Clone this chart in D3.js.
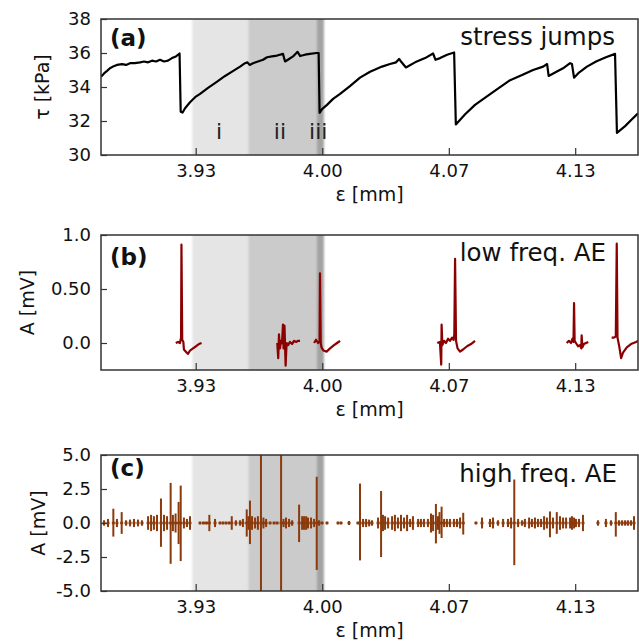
<!DOCTYPE html>
<html>
<head>
<meta charset="utf-8">
<script src="https://cdn.jsdelivr.net/npm/d3@7"></script>
<style>
body { margin: 0; background: #fff; }
text { font-family: "DejaVu Sans", sans-serif; }
</style>
</head>
<body>
<svg id="chart" width="639" height="642"></svg>
<script>
// x axis (displacement, mm)
var xDomain = [3.8834, 4.1664];
var xTicks = [3.9333, 4.0, 4.0667, 4.1333];

// shaded stages i, ii, iii
var stageStart = [3.9315, 3.9610, 3.9971];
var stageEnd = [3.9610, 3.9971, 4.0009];
var stageNames = ['i', 'ii', 'iii'];
var stageLabelX = [3.9456, 3.9777, 3.9979];

// (a) stress
var tauTicks = [30, 32, 34, 36, 38];
var stressX = [3.8834, 3.8850, 3.8866, 3.8881, 3.8897, 3.8918, 3.8945, 3.8966, 3.8987, 3.9013,
  3.9040, 3.9061, 3.9082, 3.9103, 3.9124, 3.9145, 3.9166, 3.9187, 3.9208, 3.9229,
  3.9248, 3.9254, 3.9264, 3.9277, 3.9303, 3.9330, 3.9356, 3.9398, 3.9444, 3.9488,
  3.9531, 3.9567, 3.9593, 3.9606, 3.9617, 3.9635, 3.9661, 3.9688, 3.9709, 3.9735,
  3.9762, 3.9793, 3.9804, 3.9825, 3.9846, 3.9870, 3.9883, 3.9909, 3.9935, 3.9970,
  3.9981, 3.9986, 3.9999, 4.0025, 4.0057, 4.0094, 4.0146, 4.0199, 4.0252, 4.0315,
  4.0357, 4.0389, 4.0405, 4.0415, 4.0441, 4.0489, 4.0542, 4.0584, 4.0597, 4.0621,
  4.0658, 4.0695, 4.0704, 4.0753, 4.0805, 4.0868, 4.0926, 4.0990, 4.1053, 4.1111,
  4.1164, 4.1185, 4.1193, 4.1227, 4.1269, 4.1306, 4.1316, 4.1327, 4.1353, 4.1395,
  4.1443, 4.1495, 4.1543, 4.1553, 4.1596, 4.1632, 4.1664];
var stressTau = [34.6, 34.8, 34.95, 35.1, 35.2, 35.3, 35.35, 35.3, 35.4, 35.4,
  35.45, 35.5, 35.45, 35.55, 35.5, 35.6, 35.5, 35.55, 35.7, 35.8,
  35.97, 32.55, 32.5, 32.75, 33.1, 33.4, 33.6, 33.95, 34.3, 34.65,
  34.95, 35.2, 35.4, 35.45, 35.3, 35.4, 35.5, 35.6, 35.75, 35.8,
  35.85, 35.95, 35.5, 35.65, 35.8, 36.07, 35.82, 35.9, 35.95, 36.0,
  36.0, 32.48, 32.7, 32.95, 33.3, 33.6, 34.05, 34.55, 34.9, 35.2,
  35.35, 35.45, 35.65, 35.5, 35.15, 35.45, 35.7, 35.97, 35.6, 35.7,
  35.9, 36.03, 31.8, 32.4, 32.95, 33.45, 33.9, 34.4, 34.7, 35.0,
  35.2, 35.35, 34.65, 34.85, 35.1, 35.4, 35.35, 34.55, 34.85, 35.2,
  35.5, 35.75, 35.95, 31.3, 31.7, 32.1, 32.45];

// (b) low frequency AE bursts
var lfTicks = [0.0, 0.5, 1.0];
var lfTickLabels = ['0.0', '0.50', '1.0'];
var lfBurstX = [
  [3.9228, 3.9240, 3.9250, 3.9256, 3.9258, 3.9262, 3.9268, 3.9271, 3.9286, 3.9293, 3.9303, 3.9319, 3.9335, 3.9350, 3.9364],
  [3.9763, 3.9768, 3.9772, 3.9777, 3.9783, 3.9788, 3.9793, 3.9796, 3.9801, 3.9807, 3.9812, 3.9820, 3.9830, 3.9841, 3.9851, 3.9862, 3.9873, 3.9883],
  [3.9957, 3.9967, 3.9978, 3.9986, 3.9988, 3.9992, 3.9996, 4.0006, 4.0023, 4.0041, 4.0062, 4.0078, 4.0094],
  [4.0606, 4.0620, 4.0627, 4.0629, 4.0633, 4.0642, 4.0652, 4.0663, 4.0673, 4.0684, 4.0692, 4.0696, 4.0700, 4.0705, 4.0713, 4.0726, 4.0742, 4.0763, 4.0784, 4.0805],
  [4.1288, 4.1300, 4.1311, 4.1319, 4.1324, 4.1327, 4.1330, 4.1337, 4.1348, 4.1358, 4.1365, 4.1367, 4.1371, 4.1379, 4.1390, 4.1402],
  [4.1525, 4.1537, 4.1547, 4.1552, 4.1556, 4.1564, 4.1575, 4.1585, 4.1605, 4.1627, 4.1654, 4.1664]
];
var lfBurstA = [
  [0.0, 0.01, 0.0, 0.05, 0.91, 0.03, 0.01, -0.06, -0.09, -0.1, -0.07, -0.05, -0.03, -0.01, 0.0],
  [0.0, -0.14, 0.08, -0.05, 0.02, 0.0, 0.17, -0.05, 0.16, -0.21, 0.0, -0.02, 0.01, -0.01, 0.02, 0.01, 0.02, 0.02],
  [0.0, 0.03, 0.0, 0.02, 0.645, 0.0, -0.04, -0.07, -0.08, -0.05, -0.02, 0.0, 0.02],
  [0.0, 0.01, -0.2, 0.17, -0.02, 0.02, 0.0, 0.04, 0.02, 0.05, 0.03, 0.08, 0.78, 0.02, -0.05, -0.08, -0.06, -0.03, -0.01, 0.02],
  [0.0, 0.02, 0.0, 0.04, 0.01, 0.37, 0.02, 0.0, -0.03, -0.02, -0.05, 0.07, -0.04, -0.01, 0.0, 0.01],
  [0.05, 0.05, 0.06, 0.92, 0.05, -0.02, -0.14, -0.09, -0.04, -0.01, 0.01, 0.02]
];

// (c) high frequency AE events: position, positive and negative peak
var hfTicks = [-5, -2.5, 0, 2.5, 5];
var hfTickLabels = ['-5.0', '-2.5', '0.0', '2.5', '5.0'];
var hfX = [3.8850, 3.8871, 3.8899, 3.8918, 3.8943, 3.8966, 3.8987, 3.9008, 3.9029, 3.9050,
  3.9082, 3.9098, 3.9113, 3.9129, 3.9150, 3.9166, 3.9182, 3.9201, 3.9213, 3.9227,
  3.9243, 3.9254, 3.9271, 3.9287, 3.9303, 3.9356, 3.9374, 3.9390, 3.9405, 3.9435,
  3.9461, 3.9477, 3.9493, 3.9509, 3.9523, 3.9545, 3.9567, 3.9582, 3.9602, 3.9611,
  3.9619, 3.9630, 3.9646, 3.9661, 3.9677, 3.9690, 3.9704, 3.9725, 3.9746, 3.9762,
  3.9783, 3.9796, 3.9809, 3.9825, 3.9841, 3.9878, 3.9894, 3.9904, 3.9915, 3.9925,
  3.9941, 3.9957, 3.9971, 3.9983, 3.9999, 4.0025, 4.0083, 4.0099, 4.0141, 4.0188,
  4.0199, 4.0215, 4.0231, 4.0247, 4.0262, 4.0294, 4.0310, 4.0320, 4.0331, 4.0347,
  4.0368, 4.0383, 4.0399, 4.0415, 4.0431, 4.0447, 4.0463, 4.0478, 4.0505, 4.0520,
  4.0536, 4.0557, 4.0573, 4.0584, 4.0599, 4.0610, 4.0618, 4.0629, 4.0642, 4.0657,
  4.0673, 4.0694, 4.0710, 4.0726, 4.0743, 4.0810, 4.0842, 4.0884, 4.0900, 4.0926,
  4.0953, 4.0979, 4.0995, 4.1012, 4.1032, 4.1053, 4.1068, 4.1090, 4.1105, 4.1121,
  4.1137, 4.1153, 4.1169, 4.1184, 4.1200, 4.1216, 4.1236, 4.1253, 4.1269, 4.1285,
  4.1306, 4.1316, 4.1327, 4.1337, 4.1353, 4.1374, 4.1453, 4.1495, 4.1522, 4.1547,
  4.1564, 4.1580, 4.1596, 4.1611, 4.1627, 4.1643];
var hfUp = [0.2, 0.3, 1.05, 0.3, 0.8, 0.2, 0.25, 0.3, 0.25, 0.2,
  0.5, 0.6, 0.5, 0.6, 1.8, 0.6, 0.5, 2.95, 0.6, 0.7,
  1.55, 2.75, 0.4, 0.3, 0.5, 0.1, 0.1, 0.1, 0.6, 0.3,
  0.1, 0.1, 0.1, 0.1, 0.5, 0.2, 0.2, 0.3, 1.0, 0.5,
  1.65, 0.5, 0.4, 0.5, 6, 0.4, 0.3, 0.1, 0.1, 0.1,
  6, 0.3, 0.4, 0.3, 0.2, 1.35, 0.5, 0.5, 0.5, 0.4,
  0.4, 0.3, 3.4, 0.2, 0.1, 0.1, 0.1, 0.1, 0.15, 0.1,
  2.9, 0.3, 0.3, 0.25, 0.2, 0.4, 2.35, 0.6, 0.5, 0.4,
  0.5, 0.6, 0.4, 0.6, 0.4, 0.6, 0.3, 0.5, 0.3, 0.3,
  0.3, 0.3, 0.7, 0.6, 1.4, 0.5, 0.8, 1.2, 0.3, 0.3,
  0.3, 0.3, 0.3, 0.4, 0.75, 0.1, 0.4, 0.3, 0.4, 0.2,
  0.3, 0.3, 0.4, 3.2, 0.3, 0.2, 0.3, 0.4, 0.3, 0.4,
  0.3, 0.3, 0.5, 0.4, 0.85, 0.4, 0.8, 0.5, 0.4, 0.4,
  0.4, 0.5, 0.4, 0.3, 0.3, 0.6, 0.2, 0.3, 0.2, 0.8,
  0.2, 0.2, 0.2, 0.2, 0.2, 0.5];
var hfDown = [0.2, 0.3, 1.0, 0.3, 0.8, 0.2, 0.25, 0.3, 0.25, 0.2,
  0.5, 0.6, 0.5, 0.6, 1.75, 0.6, 0.5, 3.0, 0.6, 0.7,
  1.55, 2.8, 0.4, 0.3, 0.5, 0.1, 0.1, 0.1, 0.6, 0.3,
  0.1, 0.1, 0.1, 0.1, 0.5, 0.2, 0.2, 0.3, 1.0, 0.5,
  1.55, 0.5, 0.4, 0.5, 6, 0.4, 0.3, 0.1, 0.1, 0.1,
  6, 0.3, 0.4, 0.3, 0.2, 1.4, 0.5, 0.5, 0.5, 0.4,
  0.4, 0.3, 3.45, 0.2, 0.1, 0.1, 0.1, 0.1, 0.15, 0.1,
  2.75, 0.3, 0.3, 0.25, 0.2, 0.4, 2.5, 0.6, 0.5, 0.4,
  0.5, 0.6, 0.4, 0.6, 0.4, 0.6, 0.3, 0.5, 0.3, 0.3,
  0.3, 0.3, 0.7, 0.6, 1.5, 0.5, 0.8, 1.1, 0.3, 0.3,
  0.3, 0.3, 0.3, 0.4, 0.85, 0.1, 0.4, 0.3, 0.4, 0.2,
  0.3, 0.3, 0.4, 3.1, 0.3, 0.2, 0.3, 0.4, 0.3, 0.4,
  0.3, 0.3, 0.5, 0.4, 1.05, 0.4, 0.8, 0.5, 0.4, 0.4,
  0.4, 0.5, 0.4, 0.3, 0.3, 0.6, 0.2, 0.3, 0.2, 1.0,
  0.2, 0.2, 0.2, 0.2, 0.2, 0.5];

var stageColors = ['#e5e5e5', '#cbcbcb', '#a3a3a3'];
var axisColor = '#333';

var svg = d3.select('#chart');
var x = d3.scaleLinear().domain(xDomain).range([101, 638]);

var defs = svg.append('defs');
defs.append('filter').attr('id', 'soft')
  .attr('x', '-10%').attr('width', '120%')
  .append('feGaussianBlur').attr('stdDeviation', '1.2 0');

var panels = [
  { id: 'a', top: 19, bottom: 155, domain: [30, 38], ticks: tauTicks,
    fmt: function(d) { return d; }, ylabel: 'τ [kPa]', ylabelX: 42,
    tag: '(a)', tagY: 46, title: 'stress jumps', titleX: 615, titleY: 45 },
  { id: 'b', top: 235, bottom: 370, domain: [-0.25, 1.0], ticks: lfTicks,
    fmt: function(d, i) { return lfTickLabels[i]; }, ylabel: 'A [mV]', ylabelX: 27,
    tag: '(b)', tagY: 265, title: 'low freq. AE', titleX: 606, titleY: 261 },
  { id: 'c', top: 455, bottom: 591, domain: [-5, 5], ticks: hfTicks,
    fmt: function(d, i) { return hfTickLabels[i]; }, ylabel: 'A [mV]', ylabelX: 38,
    tag: '(c)', tagY: 476, title: 'high freq. AE', titleX: 617, titleY: 482 }
];

panels.forEach(function(p) {
  p.y = d3.scaleLinear().domain(p.domain).range([p.bottom, p.top]);
  var g = svg.append('g').attr('id', 'panel-' + p.id);

  defs.append('clipPath').attr('id', 'clip-' + p.id)
    .append('rect')
    .attr('x', x.range()[0]).attr('y', p.top)
    .attr('width', x.range()[1] - x.range()[0])
    .attr('height', p.bottom - p.top);

  var plot = g.append('g').attr('clip-path', 'url(#clip-' + p.id + ')');
  plot.append('g').attr('filter', 'url(#soft)')
    .selectAll('rect')
    .data(stageStart)
    .enter().append('rect')
    .attr('x', function(d) { return x(d); })
    .attr('width', function(d, i) { return x(stageEnd[i]) - x(d); })
    .attr('y', p.top - 2)
    .attr('height', p.bottom - p.top + 4)
    .attr('fill', function(d, i) { return stageColors[i]; });

  p.plot = plot;
  p.g = g;
});

// (a) stress curve
var pa = panels[0];
pa.plot.append('path')
  .datum(d3.range(stressX.length))
  .attr('fill', 'none')
  .attr('stroke', '#000')
  .attr('stroke-width', 2.2)
  .attr('stroke-linejoin', 'round')
  .attr('d', d3.line()
    .x(function(i) { return x(stressX[i]); })
    .y(function(i) { return pa.y(stressTau[i]); }));

pa.plot.selectAll('.stage-label')
  .data(stageNames)
  .enter().append('text')
  .attr('class', 'stage-label')
  .attr('x', function(d, i) { return x(stageLabelX[i]); })
  .attr('y', pa.y(30.95))
  .attr('text-anchor', 'middle')
  .attr('font-size', 22)
  .attr('fill', '#222')
  .text(function(d) { return d; });

// (b) low frequency bursts
var pb = panels[1];
pb.plot.selectAll('.burst')
  .data(lfBurstX)
  .enter().append('path')
  .attr('class', 'burst')
  .attr('fill', 'none')
  .attr('stroke', '#8b0000')
  .attr('stroke-width', 2.2)
  .attr('stroke-linejoin', 'round')
  .attr('d', function(xs, k) {
    return d3.line()
      .x(function(d) { return x(d); })
      .y(function(d, i) { return pb.y(lfBurstA[k][i]); })(xs);
  });

// (c) high frequency events
var pc = panels[2];
var hfColor = '#8b3a0c';
var ev = pc.plot.selectAll('.event')
  .data(hfX)
  .enter().append('g')
  .attr('class', 'event');
ev.append('line')
  .attr('x1', function(d) { return x(d); })
  .attr('x2', function(d) { return x(d); })
  .attr('y1', function(d, i) { return pc.y(hfUp[i]); })
  .attr('y2', function(d, i) { return pc.y(-hfDown[i]); })
  .attr('stroke', hfColor)
  .attr('stroke-width', 2);
ev.append('line')
  .attr('x1', function(d) { return x(d) - 1.5; })
  .attr('x2', function(d) { return x(d) + 1.5; })
  .attr('y1', pc.y(0))
  .attr('y2', pc.y(0))
  .attr('stroke', hfColor)
  .attr('stroke-width', 2.5);

// frames, axes, labels
panels.forEach(function(p) {
  var g = p.g;
  var xa = g.append('g')
    .attr('transform', 'translate(0,' + p.bottom + ')')
    .call(d3.axisBottom(x)
      .tickValues(xTicks)
      .tickFormat(d3.format('.2f'))
      .tickSizeInner(-7).tickSizeOuter(0).tickPadding(9));
  var ya = g.append('g')
    .attr('transform', 'translate(' + x.range()[0] + ',0)')
    .call(d3.axisLeft(p.y)
      .tickValues(p.ticks)
      .tickFormat(p.fmt)
      .tickSizeInner(-6).tickSizeOuter(0).tickPadding(10));
  [xa, ya].forEach(function(a) {
    a.select('.domain').remove();
    a.selectAll('line').attr('stroke', axisColor).attr('stroke-width', 1.2);
    a.selectAll('text')
      .attr('fill', '#111')
      .style('font-family', '"DejaVu Sans", sans-serif')
      .style('font-size', '18px');
  });

  g.append('rect')
    .attr('x', x.range()[0]).attr('y', p.top)
    .attr('width', x.range()[1] - x.range()[0])
    .attr('height', p.bottom - p.top)
    .attr('fill', 'none')
    .attr('stroke', axisColor)
    .attr('stroke-width', 1.5);

  g.append('text')
    .attr('x', (x.range()[0] + x.range()[1]) / 2)
    .attr('y', p.bottom + 46)
    .attr('text-anchor', 'middle')
    .attr('font-size', 19)
    .attr('fill', '#111')
    .text('ε [mm]');

  // rotated y label, centred on ylabelX
  g.append('text')
    .attr('transform', 'translate(' + p.ylabelX + ',' + (p.top + p.bottom) / 2 + ') rotate(-90)')
    .attr('text-anchor', 'middle')
    .attr('dy', '0.35em')
    .attr('font-size', 19)
    .attr('fill', '#111')
    .text(p.ylabel);

  g.append('text')
    .attr('x', 110).attr('y', p.tagY)
    .attr('font-size', 23)
    .attr('font-weight', 'bold')
    .attr('fill', '#111')
    .text(p.tag);

  g.append('text')
    .attr('x', p.titleX).attr('y', p.titleY)
    .attr('text-anchor', 'end')
    .attr('font-size', 24.5)
    .attr('fill', '#111')
    .text(p.title);
});
</script>
</body>
</html>
